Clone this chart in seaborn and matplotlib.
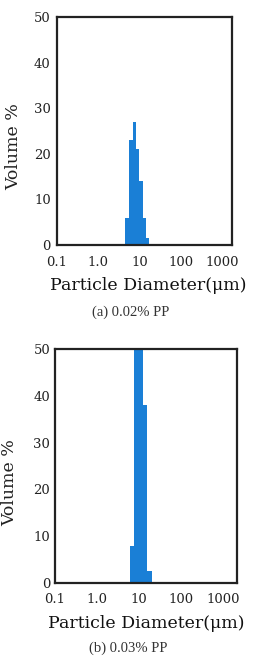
import numpy as np
import pandas as pd
import matplotlib
matplotlib.use('Agg')
import matplotlib.pyplot as plt
import seaborn as sns

# bin edges (um) and volume % per bin
edges_a = [4.5, 5.7, 6.9, 8.3, 10.0, 12.0, 14.2, 17.1]
vol_a = [6.0, 23.0, 27.0, 21.0, 14.0, 6.0, 1.5]

edges_b = [6.1, 7.6, 9.7, 12.2, 15.9, 20.0]
vol_b = [8.0, 56.0, 56.0, 38.0, 2.5]

xticks = [0.1, 1, 10, 100, 1000]
xtick_labels = ['0.1', '1.0', '10', '100', '1000']
yticks = [0, 10, 20, 30, 40, 50]
captions = ['(a) 0.02% PP', '(b) 0.03% PP']

bar_color = '#1a7fd6'
serif = ['DejaVu Serif']
cap_font = ['Liberation Serif', 'DejaVu Serif']


def draw(ax, edges, vol, xmax, caption, lab_xy, cap_xy, ylab_xy, xpad, ypad):
    edges = np.array(edges)
    centers = np.sqrt(edges[:-1] * edges[1:])
    df = pd.DataFrame({'size': centers, 'vol': vol})
    ax.set_xscale('log')
    # axis is log scaled, so seaborn bins in log10 space
    sns.histplot(data=df, x='size', weights='vol', bins=list(np.log10(edges)),
                 stat='count', color=bar_color, alpha=1, linewidth=0, ax=ax)
    ax.set_xlim(0.1, xmax)
    ax.set_ylim(0, 50)
    ax.set_xticks(xticks)
    ax.set_xticklabels(xtick_labels)
    ax.minorticks_off()
    ax.set_yticks(yticks)
    ax.tick_params(length=0, labelsize=9.5)
    ax.tick_params(axis='x', pad=xpad)
    ax.tick_params(axis='y', pad=ypad)
    for lab in ax.get_xticklabels() + ax.get_yticklabels():
        lab.set_family(serif)
        lab.set_color('#222222')
    for s in ax.spines.values():
        s.set_linewidth(1.6)
        s.set_color('#222222')
    ax.set_xlabel('Particle Diameter(\u03bcm)', family=serif, fontsize=12.5,
                  color='#111111')
    ax.set_ylabel('Volume %', family=serif, fontsize=12.5, color='#222222')
    ax.yaxis.set_label_coords(*ylab_xy)
    ax.xaxis.set_label_coords(*lab_xy)
    ax.text(cap_xy[0], cap_xy[1], caption, transform=ax.transAxes, ha='center',
            va='center', family=cap_font, fontsize=10.5, color='#333333')


def main():
    sns.set_style('white')
    fig = plt.figure(figsize=(2.55, 6.56), dpi=100)
    ax1 = fig.add_axes([57 / 255, 1 - 245 / 656, 175 / 255, 228 / 656])
    ax2 = fig.add_axes([55 / 255, 1 - 583 / 656, 182 / 255, 234 / 656])

    draw(ax1, edges_a, vol_a, 1750, captions[0], (0.523, -0.14), (0.423, -0.294),
         (-0.2, 0.43), 8, 4.5)
    draw(ax2, edges_b, vol_b, 2150, captions[1], (0.503, -0.137), (0.40, -0.278),
         (-0.203, 0.43), 7, 3.5)

    fig.savefig('out.png', dpi=100, facecolor='white')


if __name__ == '__main__':
    main()
